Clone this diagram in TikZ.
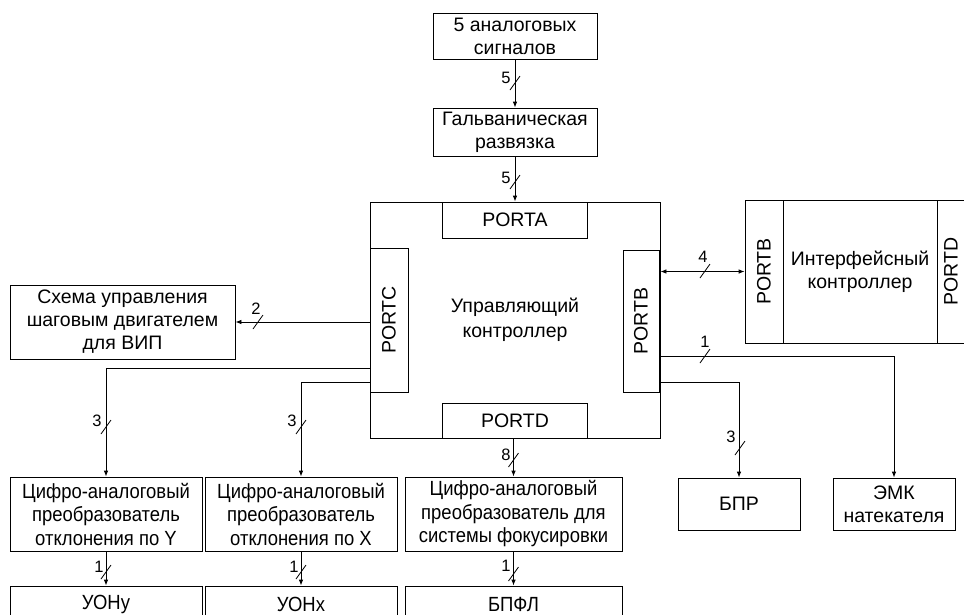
\documentclass[tikz,border=0pt]{standalone}
\usepackage{fontspec}
\setmainfont{Liberation Sans}
\newfontfamily\dacfont[FakeStretch=0.9]{Liberation Sans}
\usetikzlibrary{arrows.meta}
\begin{document}
\begin{tikzpicture}[x=1pt,y=-1pt,
  box/.style={draw, line width=0.8pt, inner sep=0pt},
  txt/.style={font=\fontsize{19.5}{23}\selectfont, align=center, inner sep=0pt},
  dactxt/.style={font={\dacfont\fontsize{20.5}{23.5}\selectfont}, align=center, inner sep=0pt},
  num/.style={font=\fontsize{16.5}{18}\selectfont, inner sep=0pt},
  conn/.style={line width=0.8pt},
  arr/.style={conn, -{Latex[length=6pt,width=4.5pt]}},
  busmark/.pic={\draw[line width=0.8pt] (-5,7) -- (5,-7);}
]
\useasboundingbox (0,0) rectangle (964,614);
\clip (0,0) rectangle (964,614);

% top chain
\node[box, txt, minimum width=164pt, minimum height=46pt] (top) at (515,36) {5 аналоговых\\сигналов};
\node[box, txt, minimum width=164pt, minimum height=48pt] (galv) at (515,132) {Гальваническая\\развязка};

% main controller
\node[box, minimum width=290pt, minimum height=236pt] (main) at (515,320) {};
\node[txt, font=\fontsize{19.5}{25}\selectfont] (mainlbl) at (515,320) {Управляющий\\контроллер};
\node[box, txt, minimum width=145pt, minimum height=36pt] (porta) at (515,220) {PORTA};
\node[box, minimum width=38pt, minimum height=144pt] (portc) at (389,320) {};
\node[txt, rotate=90] (portclbl) at (portc) {PORTC};
\node[box, minimum width=36pt, minimum height=142pt] (portb) at (641,321) {};
\node[txt, rotate=90] (portblbl) at (portb) {PORTB};
\node[box, txt, minimum width=145pt, minimum height=35pt] (portd) at (515,420.5) {PORTD};

% interface controller
\node[box, minimum width=225pt, minimum height=143pt] (iface) at (857.5,271.5) {};
\node[txt] (ifacelbl) at (860,271.5) {Интерфейсный\\контроллер};
\node[box, minimum width=38pt, minimum height=143pt] (ifb) at (764,271.5) {};
\node[txt, rotate=90] (ifblbl) at (ifb) {PORTB};
\node[box, minimum width=33pt, minimum height=143pt] (ifd) at (953.5,271.5) {};
\node[txt, rotate=90] (ifdlbl) at (951,271.5) {PORTD};

% right outputs
\node[box, txt, minimum width=122pt, minimum height=52pt] (bpr) at (739,504) {БПР};
\node[box, txt, minimum width=122pt, minimum height=52pt] (emk) at (894,504) {ЭМК\\натекателя};

% left
\node[box, txt, minimum width=225pt, minimum height=74pt] (shema) at (122.5,322) {Схема управления\\шаговым двигателем\\для ВИП};

% DACs
\node[box, dactxt, minimum width=192pt, minimum height=74pt] (dacy) at (106,514) {Цифро-аналоговый\\преобразователь\\отклонения по Y};
\node[box, dactxt, minimum width=192pt, minimum height=74pt] (dacx) at (301,514) {Цифро-аналоговый\\преобразователь\\отклонения по X};
\node[box, dactxt, minimum width=217pt, minimum height=74pt] (dacf) at (513.5,514) {Цифро-аналоговый\\преобразователь для\\системы фокусировки};

% bottom boxes (cut by the page edge)
\node[box, minimum width=192pt, minimum height=57pt] (uony) at (106,614.5) {};
\node[dactxt] (uonylbl) at (106,604) {УОНу};
\node[box, minimum width=192pt, minimum height=57pt] (uonx) at (301,614.5) {};
\node[dactxt] (uonxlbl) at (301,604) {УОНх};
\node[box, minimum width=217pt, minimum height=57pt] (bpfl) at (513.5,614.5) {};
\node[dactxt] (bpfllbl) at (513.5,604) {БПФЛ};

% connection points on the ports
\coordinate (pb1) at (660,356);
\coordinate (pb3) at (660,382);
\coordinate (pcy) at (370,368);
\coordinate (pcx) at (370,382);

% connectors
\draw[arr] (top.south) -- (galv.north);
\draw[arr] (galv.south) -- (main.north);
\draw[conn, {Latex[length=6pt,width=4.5pt]}-{Latex[length=6pt,width=4.5pt]}] (ifb.west -| main.east) -- (ifb.west);
\draw[arr] (pb1) -| (emk.north);
\draw[arr] (pb3) -| (bpr.north);
\draw[arr] (portc.west |- shema.east) -- (shema.east);
\draw[arr] (pcy) -| (dacy.north);
\draw[arr] (pcx) -| (dacx.north);
\draw[arr] (portd.south -| dacf.north) -- (dacf.north);
\draw[arr] (dacy.south) -- (uony.north);
\draw[arr] (dacx.south) -- (uonx.north);
\draw[arr] (dacf.south) -- (bpfl.north);

% bus marks and widths
\pic at (515,83) {busmark};    \node[num] (n1) at (506,78) {5};
\pic at (515,182) {busmark};   \node[num] (n2) at (506,178) {5};
\pic at (705,271) {busmark};   \node[num] (n3) at (703,257) {4};
\pic at (705,356) {busmark};   \node[num] (n4) at (705,342) {1};
\pic at (740,448) {busmark};   \node[num] (n5) at (731,437) {3};
\pic at (258,322) {busmark};   \node[num] (n6) at (256,309) {2};
\pic at (106,427) {busmark};   \node[num] (n7) at (97,421) {3};
\pic at (301,427) {busmark};   \node[num] (n8) at (292,421) {3};
\pic at (513.5,460) {busmark}; \node[num] (n9) at (506,455) {8};
\pic at (106,572) {busmark};   \node[num] (n10) at (99,567) {1};
\pic at (301,572) {busmark};   \node[num] (n11) at (294,567) {1};
\pic at (513.5,574) {busmark}; \node[num] (n12) at (506,566) {1};
\end{tikzpicture}
\end{document}
